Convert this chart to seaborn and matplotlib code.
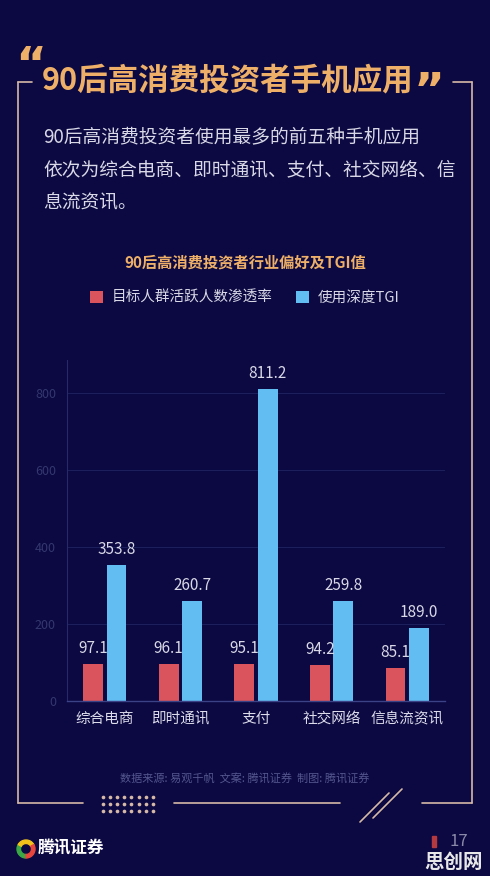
import pandas as pd
import matplotlib
matplotlib.use("Agg")
import matplotlib.pyplot as plt
import seaborn as sns
from matplotlib.patches import Rectangle, Wedge

# data
apps = ["综合电商", "即时通讯", "支付", "社交网络", "信息流资讯"]
penetration = [97.1, 96.1, 95.1, 94.2, 85.1]
tgi = [353.8, 260.7, 811.2, 259.8, 189.0]
series_names = ["目标人群活跃人数渗透率", "使用深度TGI"]
y_ticks = [0, 200, 400, 600, 800]

title = "90后高消费投资者手机应用"
intro = ["90后高消费投资者使用最多的前五种手机应用",
         "依次为综合电商、即时通讯、支付、社交网络、信",
         "息流资讯。"]
chart_title = "90后高消费投资者行业偏好及TGI值"
source = "数据来源: 易观千帆  文案: 腾讯证券  制图: 腾讯证券"

df = pd.DataFrame({
    "app": apps * 2,
    "value": penetration + tgi,
    "series": [series_names[0]] * 5 + [series_names[1]] * 5,
})

bg = "#0b0842"
red = "#d9545c"
blue = "#62bdf2"
gold = "#eeb068"
frame = "#d6b9a6"

sns.set_theme(style="dark")
plt.rcParams["font.family"] = ["Noto Sans CJK SC", "DejaVu Sans"]

W, H = 490, 876
fig = plt.figure(figsize=(W / 100, H / 100), dpi=100, facecolor=bg)

# overlay in pixel coordinates for decorations
deco = fig.add_axes([0, 0, 1, 1], zorder=0)
deco.set_xlim(0, W)
deco.set_ylim(H, 0)
deco.axis("off")
deco.patch.set_alpha(0)

# chart axes
ax = fig.add_axes([67 / W, 1 - 701 / H, (445 - 67) / W, (701 - 360) / H], zorder=1)
ax.set_facecolor("none")
sns.barplot(data=df, x="app", y="value", hue="series",
            palette=[red, blue], width=0.62, gap=0.15, saturation=1,
            linewidth=0, ax=ax)
ax.set_ylim(0, 887)
ax.set_xlim(-0.5, 4.5)
ax.set_yticks(y_ticks)
ax.set_xlabel("")
ax.set_ylabel("")
ax.grid(False)
for t in y_ticks[1:]:
    ax.axhline(t, color="#1d1f5c", lw=0.8, zorder=0)
ax.tick_params(axis="y", colors="#34386f", labelsize=9, length=0, pad=8)
ax.tick_params(axis="x", colors="#dcdcea", labelsize=10.5, length=0, pad=8)
for s in ["top", "right"]:
    ax.spines[s].set_visible(False)
ax.spines["left"].set_color("#262a66")
ax.spines["bottom"].set_color("#3c4286")
ax.spines["left"].set_linewidth(0.8)
ax.spines["bottom"].set_linewidth(1.0)
for c in ax.containers:
    ax.bar_label(c, fmt="%.1f", padding=5, color="#d8d8e6", fontsize=11)

sns.move_legend(ax, "center", bbox_to_anchor=(0.5, 1 - 298 / H),
                bbox_transform=fig.transFigure, ncol=2, frameon=False,
                title=None, fontsize=10.5, handlelength=0.9, handleheight=0.9,
                handletextpad=0.6, columnspacing=1.6)
for t in ax.get_legend().get_texts():
    t.set_color("#d8d8e6")

# titles and text
deco.text(15, 68, "\u201c", color=gold, fontsize=34, fontweight="bold",
          ha="left", va="center", family=["DejaVu Sans"])
deco.text(42, 80, title, color=gold, fontsize=22, fontweight="bold",
          ha="left", va="center")
deco.text(414, 94, "\u201d", color=gold, fontsize=34, fontweight="bold",
          ha="left", va="center", family=["DejaVu Sans"])
for i, line in enumerate(intro):
    deco.text(43, 137 + i * 33, line, color="#d8d8e6", fontsize=13.5,
              ha="left", va="center")
deco.text(245, 263, chart_title, color=gold, fontsize=11, fontweight="bold",
          ha="center", va="center")
deco.text(245, 779, source, color="#55578f", fontsize=8,
          ha="center", va="center")

# frame
lk = dict(color=frame, lw=1.2)
deco.plot([18, 32], [82, 82], **lk)
deco.plot([18, 18], [82, 803], **lk)
deco.plot([453, 472], [82, 82], **lk)
deco.plot([472, 472], [82, 803], **lk)
deco.plot([18, 83], [803, 803], **lk)
deco.plot([174, 340], [803, 803], **lk)
deco.plot([422, 472], [803, 803], **lk)
deco.plot([360, 389], [822, 793], **lk)
deco.plot([373, 402], [818, 789], **lk)
dx = [103 + 7.1 * i for i in range(8)]
for yy in [797, 804, 811]:
    deco.scatter(dx, [yy] * 8, s=7, color=frame, linewidths=0)

# logo
for a0, a1, col in [(90, 210, "#3aa845"), (210, 330, "#f2c21b"), (330, 450, "#e8453c")]:
    deco.add_patch(Wedge((26, 849), 9, a0, a1, width=3.5, color=col))
deco.text(38, 849, "腾讯证券", color="white", fontsize=12, fontweight="bold",
          ha="left", va="center", style="italic")

# page number and watermark
deco.add_patch(Rectangle((432, 836), 4, 11, color="#b43a40"))
deco.text(449, 842, "17", color="#8a8aa8", fontsize=12, ha="left", va="center")
deco.text(454, 862, "思创网", color="#e8e8e8", fontsize=14, fontweight="bold",
          ha="center", va="center")

fig.savefig("out.png", dpi=100, facecolor=bg)
